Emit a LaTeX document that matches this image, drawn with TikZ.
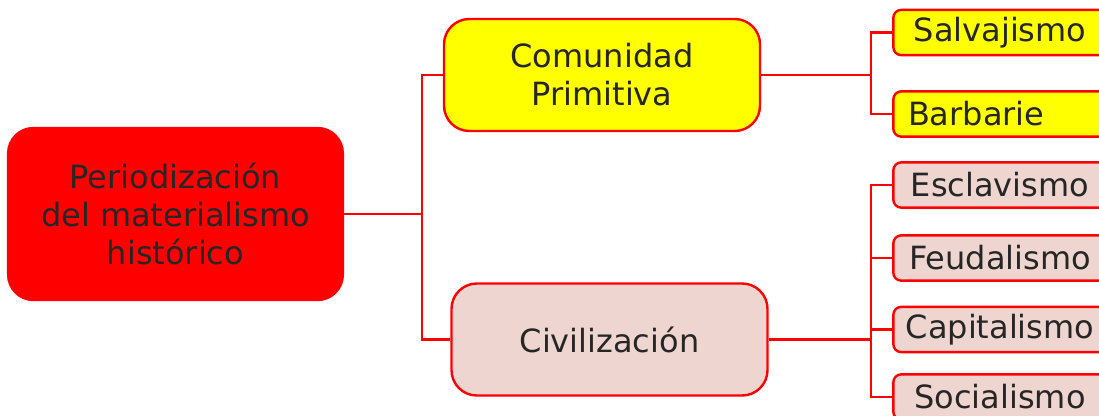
\documentclass[tikz,border=0pt]{standalone}
\usepackage{fontspec}
\setmainfont{DejaVu Sans}
\usepackage{xcolor}
\usepackage{tikz}
\definecolor{mapred}{RGB}{255,0,0}
\definecolor{mapyellow}{RGB}{255,255,0}
\definecolor{mappink}{RGB}{238,213,208}
\definecolor{maptext}{RGB}{38,38,38}
\tikzset{
  box/.style={rectangle,draw=mapred,line width=1.8pt,text=maptext,align=center,
    font=\fontsize{24}{28.5}\selectfont,inner sep=0pt},
  rootbox/.style={box,fill=mapred,rounded corners=19pt,minimum width=251pt,minimum height=129pt},
  midbox/.style={box,rounded corners=19pt,minimum width=237pt,minimum height=84pt},
  leafbox/.style={box,fill=mappink,rounded corners=6pt,minimum width=160pt,minimum height=34pt},
  link/.style={draw=mapred,line width=1.8pt}
}

\begin{document}
\begin{tikzpicture}[x=0.75pt,y=-0.75pt]
  \useasboundingbox (0,0) rectangle (1099,415);
  \clip (0,0) rectangle (1099,415);
  % main boxes
  \node[rootbox] (root) at (175.5,214) {Periodización\\del materialismo\\histórico};
  \node[midbox,fill=mapyellow] (com) at (602,75) {Comunidad\\Primitiva};
  \node[midbox,fill=mappink] (civ) at (609.5,339.5) {Civilización};
  % leaves
  \node[leafbox,fill=mapyellow] (salv) at (1000,32.5) {Salvajismo};
  \node[leafbox,fill=mapyellow,text width=138pt,align=left] (barb) at (1000,114) {Barbarie};
  \node[leafbox] (escl) at (1000,185) {Esclavismo};
  \node[leafbox] (feud) at (1000,258) {Feudalismo};
  \node[leafbox] (capi) at (1000,329.5) {Capitalismo};
  \node[leafbox] (soc) at (1000,397) {Socialismo};
  \coordinate (j1) at (422,214);
  \coordinate (j2) at (871,0);
  % connectors
  \draw[link] (root.east) -- (j1);
  \draw[link] (com.west) -| (j1) |- (civ.west);
  \draw[link] (com.east) -- (com.east -| j2);
  \draw[link] (salv.west) -| (com.east -| j2) |- (barb.west);
  \draw[link] (civ.east) -- (civ.east -| j2);
  \draw[link] (escl.west) -| (civ.east -| j2) |- (soc.west);
  \draw[link] (feud.west) -- (feud.west -| j2);
  \draw[link] (capi.west) -- (capi.west -| j2);
\end{tikzpicture}
\end{document}
